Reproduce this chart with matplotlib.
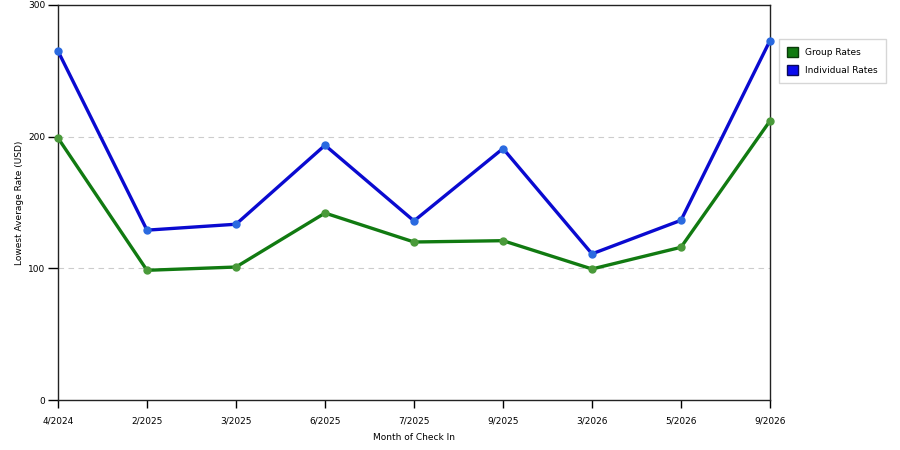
import matplotlib
matplotlib.use('Agg')
import matplotlib.pyplot as plt
from matplotlib.patches import Patch

months = ['4/2024', '2/2025', '3/2025', '6/2025', '7/2025', '9/2025', '3/2026', '5/2026', '9/2026']
group_rates = [199, 98.5, 101, 142, 120, 121, 99.5, 116, 212]
individual_rates = [265, 129, 133.5, 193.5, 136, 191, 111, 136.5, 273]

plt.rcParams['font.family'] = ['DejaVu Sans']

fig = plt.figure(figsize=(9, 4.5), dpi=100)
ax = fig.add_axes([58/900, 50/450, 712/900, 395/450])

x = list(range(len(months)))
ax.plot(x, group_rates, color='#117a11', lw=2.4, marker='o', ms=5,
        mfc='#4a9a3a', mec='#4a9a3a', zorder=3, clip_on=False)
ax.plot(x, individual_rates, color='#0a0ad0', lw=2.4, marker='o', ms=5,
        mfc='#2a6ae0', mec='#2a6ae0', zorder=3, clip_on=False)

ax.set_xlim(0, len(months) - 1)
ax.set_ylim(0, 300)
ax.set_xticks(x)
ax.set_xticklabels(months, fontsize=6.5)
ax.set_yticks([0, 100, 200, 300])
ax.tick_params(axis='y', labelsize=6.5, length=7, width=1, pad=2)
ax.tick_params(axis='x', length=6, width=1, pad=6)
for y in [100, 200]:
    ax.axhline(y, color='#cccccc', lw=0.8, ls=(0, (5, 4)), zorder=1)
for s in ax.spines.values():
    s.set_color('#222222')
    s.set_linewidth(1)

ax.set_xlabel('Month of Check In', fontsize=6.5, labelpad=5)
ax.set_ylabel('Lowest Average Rate (USD)', fontsize=6.5, labelpad=3)

handles = [Patch(facecolor='#117a11', edgecolor='#0a3a0a'),
           Patch(facecolor='#0a0aee', edgecolor='#0a0a5a')]
leg = fig.legend(handles, ['Group Rates', 'Individual Rates'],
                 loc='upper left', bbox_to_anchor=(779/900, 1 - 39/450),
                 fontsize=6.5, frameon=True, fancybox=False, edgecolor='#cccccc',
                 handlelength=1.2, handleheight=1.3, borderpad=0.9,
                 labelspacing=0.9, handletextpad=0.8, borderaxespad=0)

fig.savefig('out.png', dpi=100)
